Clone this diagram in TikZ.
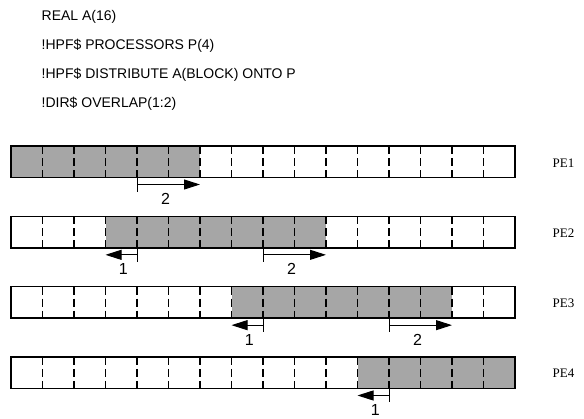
\documentclass[tikz,border=0pt]{standalone}
\usepackage{fontspec}
\setmainfont{Liberation Serif}
\newfontfamily\codefont{Liberation Sans}
\usepackage{tikz}
\usetikzlibrary{arrows.meta,positioning,calc}
\definecolor{ovlgray}{HTML}{A6A6A6}
\tikzset{
  code/.style={inner sep=0pt, anchor=base west, font=\codefont\fontsize{14}{17}\selectfont},
  pelabel/.style={inner sep=0pt, anchor=base west, font=\fontsize{13}{15}\selectfont},
  num/.style={inner sep=0pt, anchor=base, font=\codefont\fontsize{16}{19}\selectfont},
  owned/.style={fill=ovlgray},
  frame/.style={draw=black, line width=1.4pt},
  divider/.style={line width=1.2pt, dash pattern=on 8pt off 4pt},
  tickmark/.style={line width=1pt},
  ovlarrow/.style={line width=1pt, -{Triangle[length=16pt,width=10pt]}},
}

\begin{document}
\begin{tikzpicture}[x=1pt,y=-1pt]
  \useasboundingbox (0,0) rectangle (584,418);
  % source lines
  \node[code] (l1) at (41.5,20.7) {REAL A(16)};
  \node[code] (l2) at (41.5,49.7) {!HPF\$ PROCESSORS P(4)};
  \node[code] (l3) at (41.5,78.7) {!HPF\$ DISTRIBUTE A(BLOCK) ONTO P};
  \node[code] (l4) at (41.5,107.7) {!DIR\$ OVERLAP(1:2)};
  % one bar of 16 cells per processor, shaded part = own block + overlap
  \foreach \n/\a/\b in {1/0/6, 2/3/10, 3/7/14, 4/11/16} {
    \pgfmathsetmacro\ytop{146+(\n-1)*70.33}
    \pgfmathsetmacro\ybot{\ytop+31.5}
    \coordinate (bar\n nw) at (11,\ytop);
    \coordinate (bar\n se) at (515,\ybot);
    \fill[owned] (11+\a*31.5,\ytop) rectangle (11+\b*31.5,\ybot);
    \foreach \k in {1,...,15}
      \draw[divider] (11+\k*31.5,\ytop) -- (11+\k*31.5,\ybot);
    \draw[frame] (bar\n nw) rectangle (bar\n se);
    \node[pelabel] (pe\n) at (552.5,\ytop+21) {PE\n};
  }
  % overlap of 1 on the left
  \foreach \n/\a in {2/3, 3/7, 4/11} {
    \pgfmathsetmacro\ybot{177.5+(\n-1)*70.33}
    \coordinate (lt\n) at (11+\a*31.5+31.5,\ybot);
    \coordinate (lb\n) at (11+\a*31.5+31.5,\ybot+14);
    \coordinate (lh\n) at (11+\a*31.5,\ybot+7);
    \draw[tickmark] (lt\n) -- (lb\n);
    \draw[ovlarrow] (lt\n |- lh\n) -- (lh\n);
    \node[num] (ln\n) at ($(lt\n)!0.5!(lh\n)+(2,23.5)$) {1};
  }
  % overlap of 2 on the right
  \foreach \n/\b in {1/6, 2/10, 3/14} {
    \pgfmathsetmacro\ybot{177.5+(\n-1)*70.33}
    \coordinate (rt\n) at (11+\b*31.5-63,\ybot);
    \coordinate (rb\n) at (11+\b*31.5-63,\ybot+14);
    \coordinate (rh\n) at (11+\b*31.5,\ybot+7);
    \draw[tickmark] (rt\n) -- (rb\n);
    \draw[ovlarrow] (rt\n |- rh\n) -- (rh\n);
    \node[num] (rn\n) at ($(rt\n)!0.5!(rh\n)+(-3,23.5)$) {2};
  }
\end{tikzpicture}
\end{document}
